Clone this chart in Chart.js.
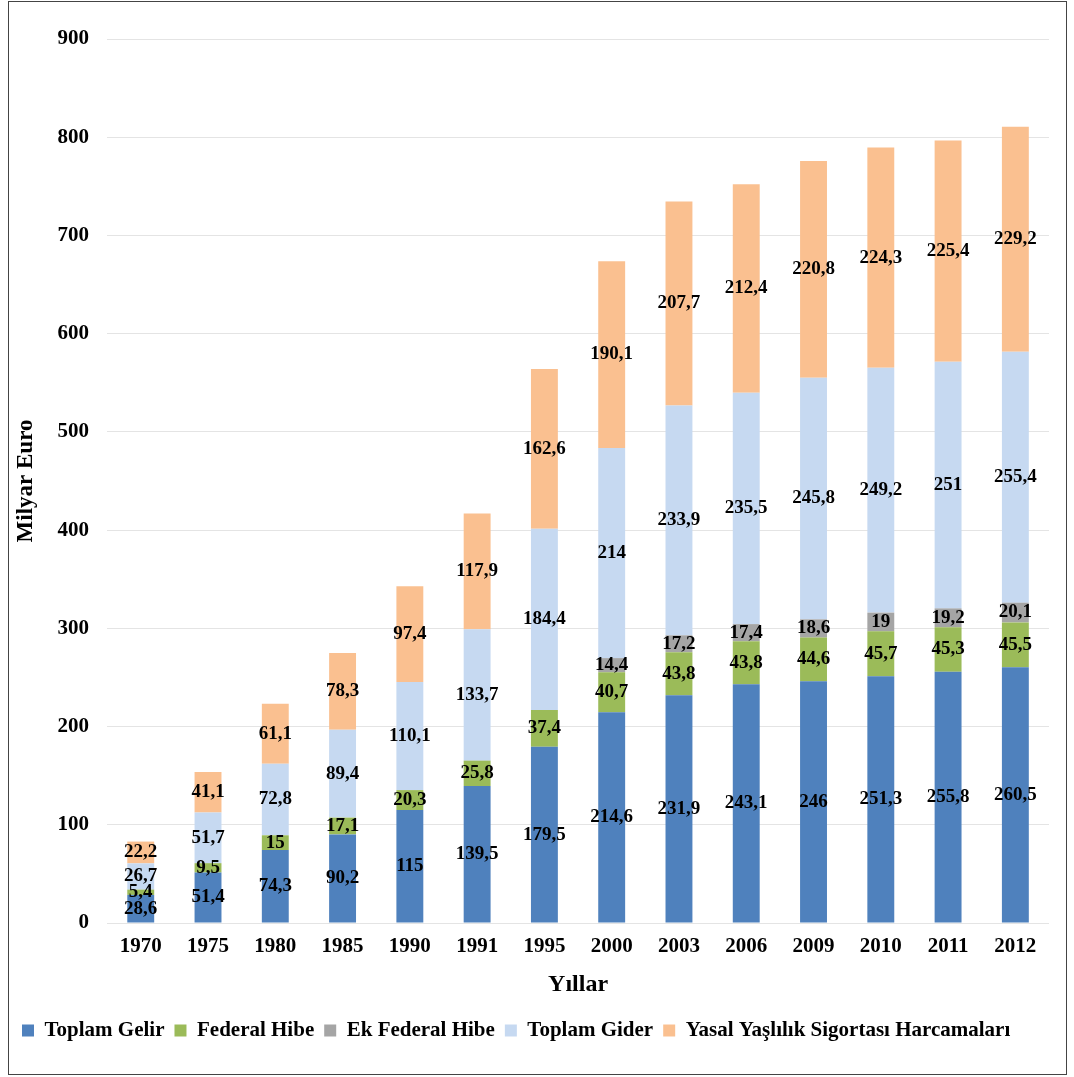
<!DOCTYPE html>
<html>
<head>
<meta charset="utf-8">
<script src="https://cdn.jsdelivr.net/npm/chart.js@4.4.0/dist/chart.umd.min.js"></script>
<style>
html,body{margin:0;padding:0;background:#fff;}
#wrap{position:absolute;left:0;top:0;width:1074px;height:1077px;}
#frame{position:absolute;left:8px;top:1px;width:1057px;height:1072px;border:1px solid #444;pointer-events:none;}
</style>
</head>
<body>
<div id="wrap"><canvas id="c" width="1074" height="1077"></canvas></div>
<div id="frame"></div>
<script>
const years = ["1970","1975","1980","1985","1990","1991","1995","2000","2003","2006","2009","2010","2011","2012"];
const toplamGelir = [28.6,51.4,74.3,90.2,115,139.5,179.5,214.6,231.9,243.1,246,251.3,255.8,260.5];
const federalHibe = [5.4,9.5,15,17.1,20.3,25.8,37.4,40.7,43.8,43.8,44.6,45.7,45.3,45.5];
const ekFederalHibe = [0,0,0,0,0,0,0,14.4,17.2,17.4,18.6,19,19.2,20.1];
const toplamGider = [26.7,51.7,72.8,89.4,110.1,133.7,184.4,214,233.9,235.5,245.8,249.2,251,255.4];
const yasalYaslilik = [22.2,41.1,61.1,78.3,97.4,117.9,162.6,190.1,207.7,212.4,220.8,224.3,225.4,229.2];
const yTicks = [0,100,200,300,400,500,600,700,800,900];

const FONT = "'Liberation Serif','Times New Roman',serif";

const labelPlugin = {
  id:'segLabels',
  afterDatasetsDraw(chart){
    const ctx = chart.ctx;
    ctx.save();
    ctx.font = "bold 19px " + FONT;
    ctx.fillStyle = "#000";
    ctx.textAlign = "center";
    ctx.textBaseline = "middle";
    chart.data.datasets.forEach((ds,di)=>{
      const meta = chart.getDatasetMeta(di);
      meta.data.forEach((bar,i)=>{
        const v = ds.data[i];
        if(!v) return;
        const y = (bar.y + bar.base)/2;
        ctx.fillText(String(v).replace('.',','), bar.x, y);
      });
    });
    ctx.restore();
  }
};

new Chart(document.getElementById('c'),{
  type:'bar',
  data:{
    labels: years,
    datasets:[
      {label:'Toplam Gelir', data:toplamGelir, backgroundColor:'#4F81BD'},
      {label:'Federal Hibe', data:federalHibe, backgroundColor:'#9BBB59'},
      {label:'Ek Federal Hibe', data:ekFederalHibe, backgroundColor:'#A5A5A5'},
      {label:'Toplam Gider', data:toplamGider, backgroundColor:'#C6D9F1'},
      {label:'Yasal Yaşlılık Sigortası Harcamaları', data:yasalYaslilik, backgroundColor:'#FAC090'}
    ]
  },
  options:{
    responsive:false,
    animation:false,
    devicePixelRatio:1,
    categoryPercentage:1.0,
    barPercentage:0.4,
    layout:{padding:{left:12,right:25,top:39,bottom:26}},
    plugins:{
      legend:{
        position:'bottom',
        align:'start',
        labels:{
          boxWidth:12, boxHeight:12, padding:10,
          color:'#000',
          font:{family:FONT, size:21, weight:'bold'}
        }
      },
      tooltip:{enabled:false}
    },
    scales:{
      x:{
        stacked:true,
        grid:{display:false, drawTicks:false},
        border:{display:false},
        ticks:{color:'#000', padding:11, font:{family:FONT, size:21, weight:'bold'}},
        title:{display:true, text:'Yıllar', color:'#000', padding:{top:0,bottom:11}, font:{family:FONT, size:24, weight:'bold'}}
      },
      y:{
        stacked:true,
        min:0, max:900,
        afterBuildTicks(axis){ axis.ticks = yTicks.map(v=>({value:v})); },
        grid:{color:'#E4E4E4', drawTicks:false, lineWidth:1},
        border:{display:false},
        ticks:{color:'#000', padding:18, font:{family:FONT, size:21, weight:'bold'}},
        title:{display:true, text:'Milyar Euro', color:'#000', padding:{top:0,bottom:0}, font:{family:FONT, size:23, weight:'bold'}}
      }
    }
  },
  plugins:[labelPlugin]
});
</script>
</body>
</html>
